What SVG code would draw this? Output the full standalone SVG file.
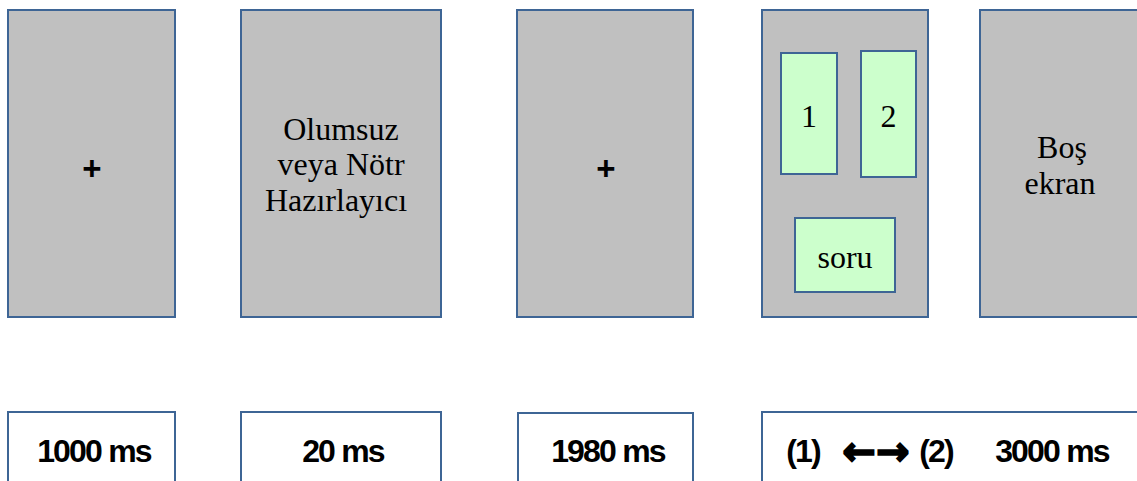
<svg xmlns="http://www.w3.org/2000/svg" width="1137" height="481" viewBox="0 0 1137 481">
<style>
.scr{fill:#C0C0C0;stroke:#3E6595;stroke-width:2}
.opt{fill:#CCFFCC;stroke:#3E6595;stroke-width:2}
.dur{fill:#FFFFFF;stroke:#3E6595;stroke-width:2}
.ser{font-family:"Liberation Serif","Times New Roman",serif;font-size:32px;fill:#000;text-anchor:middle}
.bold{font-family:"Liberation Sans",Arial,sans-serif;font-weight:bold;font-size:32px;fill:#000;text-anchor:middle;letter-spacing:-1.8px}
.arr{font-family:"DejaVu Sans",sans-serif;font-weight:bold;font-size:40px;fill:#000;stroke:#000;stroke-width:1.8;text-anchor:middle}
.plus{font-family:"Liberation Sans",Arial,sans-serif;font-weight:bold;font-size:33px;fill:#000;text-anchor:middle}
</style>
<g id="screen1">
<rect class="scr" x="8" y="10" width="167" height="307"/>
<text class="plus" x="92" y="180">+</text>
</g>
<g id="screen2">
<rect class="scr" x="241" y="10" width="200" height="307"/>
<text class="ser" x="341" y="139.5">Olumsuz</text>
<text class="ser" x="341" y="175">veya Nötr</text>
<text class="ser" x="336" y="211">Hazırlayıcı</text>
</g>
<g id="screen3">
<rect class="scr" x="517" y="10" width="176" height="307"/>
<text class="plus" x="606" y="180">+</text>
</g>
<g id="screen4">
<rect class="scr" x="762" y="10" width="166" height="307"/>
<g id="option1">
<rect class="opt" x="781" y="53" width="56" height="121"/>
<text class="ser" x="809" y="127">1</text>
</g>
<g id="option2">
<rect class="opt" x="861" y="51" width="55" height="126"/>
<text class="ser" x="888.5" y="127">2</text>
</g>
<g id="question">
<rect class="opt" x="795" y="218" width="100" height="74"/>
<text class="ser" x="845" y="268">soru</text>
</g>
</g>
<g id="screen5">
<rect class="scr" x="980" y="10" width="170" height="307"/>
<text class="ser" x="1062" y="158">Boş</text>
<text class="ser" x="1060" y="194">ekran</text>
</g>
<g id="connectors"></g>
<g id="dur1">
<rect class="dur" x="8" y="412" width="167" height="80"/>
<text class="bold" x="94" y="462">1000 ms</text>
</g>
<g id="dur2">
<rect class="dur" x="241" y="412" width="200" height="80"/>
<text class="bold" x="343" y="462">20 ms</text>
</g>
<g id="dur3">
<rect class="dur" x="518" y="413" width="175" height="80"/>
<text class="bold" x="608" y="462">1980 ms</text>
</g>
<g id="dur4">
<rect class="dur" x="762" y="412" width="390" height="80"/>
<text class="bold" x="803" y="462">(1)</text>
<text class="arr" x="859" y="465">←</text>
<text class="arr" x="893" y="465">→</text>
<text class="bold" x="936" y="462">(2)</text>
<text class="bold" x="1052" y="462">3000 ms</text>
</g>
</svg>
